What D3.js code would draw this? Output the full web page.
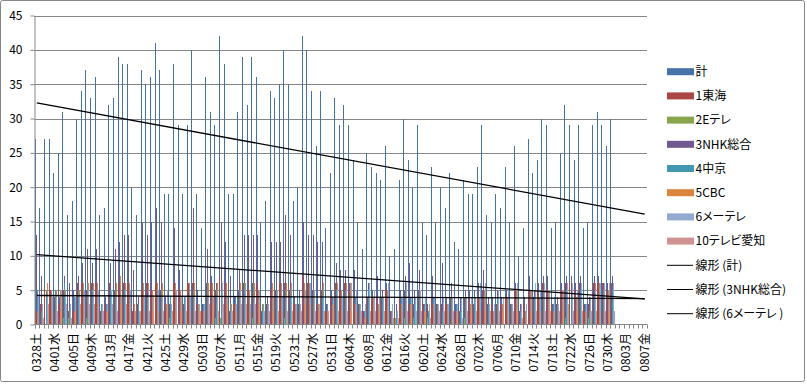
<!DOCTYPE html>
<html><head><meta charset="utf-8">
<script src="https://cdn.jsdelivr.net/npm/d3@7"></script>
<style>body{margin:0;background:#fff} text{font-family:"Noto Sans CJK JP","Noto Sans",sans-serif;fill:#000}</style>
</head><body><svg id="c" width="807" height="385"></svg>
<script>
const categories = ("0328土 0329日 0330月 0331火 " +
"0401水 0402木 0403金 0404土 0405日 0406月 0407火 0408水 0409木 0410金 0411土 0412日 0413月 0414火 0415水 0416木 0417金 0418土 0419日 0420月 0421火 0422水 0423木 0424金 0425土 0426日 0427月 0428火 0429水 0430木 " +
"0501金 0502土 0503日 0504月 0505火 0506水 0507木 0508金 0509土 0510日 0511月 0512火 0513水 0514木 0515金 0516土 0517日 0518月 0519火 0520水 0521木 0522金 0523土 0524日 0525月 0526火 0527水 0528木 0529金 0530土 0531日 " +
"0601月 0602火 0603水 0604木 0605金 0606土 0607日 0608月 0609火 0610水 0611木 0612金 0613土 0614日 0615月 0616火 0617水 0618木 0619金 0620土 0621日 0622月 0623火 0624水 0625木 0626金 0627土 0628日 0629月 0630火 " +
"0701水 0702木 0703金 0704土 0705日 0706月 0707火 0708水 0709木 0710金 0711土 0712日 0713月 0714火 0715水 0716木 0717金 0718土 0719日 0720月 0721火 0722水 0723木 0724金 0725土 0726日 0727月 0728火 0729水 0730木 0731金 " +
"0801土 0802日 0803月 0804火 0805水 0806木 0807金").split(" ");

const seriesNames = ["計","1東海","2Eテレ","3NHK総合","4中京","5CBC","6メーテレ","10テレビ愛知"];
const seriesColors = ["#4572A7","#AA4643","#89A54E","#71588F","#4198AF","#DB843D","#93A9CF","#D19392"];

const total = [27,17,27,27,22,25,31,16,18,30,34,37,33,36,16,17,32,33,39,38,38,20,16,37,35,36,41,37,19,19,38,29,19,29,
40,19,14,36,31,29,42,38,19,19,31,39,32,39,36,15,18,34,33,35,40,35,18,20,42,40,34,26,34,14,22,33,29,32,
29,24,15,11,25,23,22,21,26,10,11,21,30,24,20,29,15,13,23,15,20,17,22,12,11,21,19,19,23,29,16,15,19,17,
23,15,26,10,14,27,22,24,30,29,14,15,25,32,29,24,29,14,15,29,31,29,26,30];
const tokai = [2,3,5,6,4,3,5,2,2,6, 6,5,6,6,2,3,6,5,6,6, 6,2,3,5,6,5,6,5,3,3, 6,5,3,6,6,3,2,6,6,5,
7,6,2,3,5,6,5,6,6,2, 3,5,5,6,6,5,3,3,7,6, 5,3,5,2,4,6,5,6,5,4, 3,2,4,4,4,4,5,2,2,4,
5,3,3,5,3,3,4,3,3,3, 4,2,2,4,4,3,4,5,3,3, 3,3,4,3,5,2,3,5,4,5, 6,5,3,3,5,6,6,5,6,3, 3,6,6,6,5,6];
const etele = [0,0,0,1,0,1,1,1,0,0, 0,1,0,0,0,0,0,0,1,0, 0,0,0,0,0,0,0,0,0,1, 0,0,0,0,0,0,0,0,0,1,
1,1,0,0,0,0,0,1,0,0, 0,0,0,0,1,0,1,0,1,0, 0,0,0,0,1,0,0,0,0,0, 0,1,0,0,0,0,0,0,1,0,
1,0,1,0,0,1,0,0,0,0, 0,0,0,1,0,0,0,0,0,1, 0,0,1,0,0,0,1,0,0,0, 0,1,0,0,0,1,0,0,0,0, 1,0,0,0,0,0];
const nhk = [13,7,4,5,3,4,7,6,5,7, 9,11,9,11,3,4,9,11,12,13, 13,8,4,15,13,15,17,15,4,3, 14,8,4,6,17,5,3,11,7,6,
15,12,7,4,8,13,13,13,13,3, 4,12,12,12,16,13,4,5,15,13, 13,12,12,3,5,9,8,8,6,8, 3,2,6,5,7,5,6,2,3,5,
7,9,5,8,3,2,7,3,9,4, 6,3,4,5,5,5,6,8,4,4, 5,4,5,3,6,3,4,7,5,6, 7,7,3,4,6,7,7,6,7,3, 4,7,7,6,6,7];
const chukyo = [5,2,5,4,5,5,6,2,4,5, 5,6,5,5,3,3,5,5,6,5, 6,3,3,5,4,5,5,5,3,4, 5,5,4,5,5,3,3,6,5,5,
5,6,3,4,5,6,4,6,5,3, 3,5,5,5,5,5,3,4,5,6, 5,3,5,3,4,5,5,5,5,4, 3,2,5,4,3,4,4,2,2,4,
5,4,3,5,3,2,4,3,2,3, 4,3,2,4,3,4,4,5,3,2, 4,3,4,3,5,2,2,4,4,4, 5,5,3,3,4,5,4,4,5,3, 2,4,5,5,5,5];
const cbc = [2,1,6,5,5,5,5,1,2,5, 6,6,6,6,3,2,5,6,7,6, 6,3,2,6,6,5,6,6,3,3, 6,5,3,6,6,3,2,6,6,6,
6,6,3,3,6,6,5,6,5,3, 3,6,5,6,6,6,3,3,6,6, 5,3,6,2,3,6,5,6,6,3, 2,1,4,4,3,3,5,1,1,3,
5,3,3,5,2,2,3,2,2,3, 4,2,1,3,3,3,4,5,3,2, 3,3,4,3,5,1,2,5,4,4, 6,5,2,2,5,6,6,4,5,2, 2,6,6,6,5,6];
const meitele = [4,3,4,4,4,5,4,3,4,4, 5,5,5,5,3,3,5,4,4,5, 5,2,2,4,5,4,5,4,5,3, 5,4,4,4,4,3,3,4,4,4,
6,4,2,3,5,5,3,4,5,2, 3,4,5,4,4,4,3,3,5,6, 5,3,4,2,4,5,4,5,6,5, 3,3,6,5,4,4,6,3,2,4,
6,4,4,5,4,3,4,3,4,3, 4,3,4,4,4,4,6,6,3,3, 5,4,5,3,6,3,3,5,6,5, 6,5,4,3,5,6,6,5,6,3, 4,5,6,6,6,6];
const aichi = [2,1,3,2,2,2,3,1,2,3, 3,3,3,3,2,2,3,2,3,3, 3,2,2,2,2,2,2,2,2,2, 2,2,2,2,2,2,2,3,3,2,
3,3,2,2,3,3,2,3,3,2, 2,2,2,2,2,2,2,2,3,3, 2,2,2,2,2,2,2,2,2,2, 2,1,2,2,2,2,2,1,1,2,
2,2,2,2,2,1,2,2,2,2, 2,1,1,2,2,2,2,2,2,2, 2,2,2,2,2,1,1,2,2,2, 2,2,2,2,2,3,2,2,2,2, 2,2,2,2,2,2];
const seriesValues = [total,tokai,etele,nhk,chukyo,cbc,meitele,aichi];
const trendNames = ["線形 (計)","線形 (3NHK総合)","線形 (6メーテレ )"];
const trendSources = [0,3,6];
const yTicks = [0,5,10,15,20,25,30,35,40,45];
const xLabelEvery = 4;

const svg = d3.select("#c");
svg.append("rect").attr("x",0.5).attr("y",0.5).attr("width",804).attr("height",381)
  .attr("fill","#fff").attr("stroke","#868686").attr("rx",2);

const L=34.5, R=647, T=15.5, B=324.5;
const x0 = d3.scaleBand().domain(d3.range(categories.length)).range([L,R]).paddingInner(0).paddingOuter(0);
const x1 = d3.scaleBand().domain(d3.range(seriesNames.length)).range([0,x0.bandwidth()]).paddingInner(0).paddingOuter(0.55);
const y = d3.scaleLinear().domain([0,45]).range([B,T]);

// gridlines
svg.append("g").selectAll("line").data(yTicks.slice(1)).join("line")
  .attr("x1",L).attr("x2",R).attr("y1",d=>Math.round(y(d))+0.5).attr("y2",d=>Math.round(y(d))+0.5)
  .attr("stroke","#868686").attr("stroke-width",1);

// bars
const barG = svg.append("g").attr("shape-rendering","crispEdges");
seriesValues.forEach((vals,s)=>{
  barG.append("g").selectAll("rect").data(vals.map((v,i)=>({v,i})).filter(d=>d.v>0)).join("rect")
    .attr("x",d=>x0(d.i)+x1(s)).attr("width",1)
    .attr("y",d=>y(d.v)).attr("height",d=>y(0)-y(d.v))
    .attr("fill",seriesColors[s]);
});

// trend lines (linear regression over all categories, blank = 0)
function regress(vals){
  const n=categories.length; const xs=d3.range(n); const ys=xs.map(i=>vals[i]||0);
  const mx=d3.mean(xs), my=d3.mean(ys);
  let sxy=0,sxx=0; xs.forEach((xv,k)=>{sxy+=(xv-mx)*(ys[k]-my); sxx+=(xv-mx)*(xv-mx);});
  const b=sxy/sxx, a=my-b*mx; return i=>a+b*i;
}
trendSources.forEach(s=>{
  const f=regress(seriesValues[s]);
  const n=categories.length;
  svg.append("line").attr("x1",x0(0)+x0.bandwidth()/2).attr("x2",x0(n-1)+x0.bandwidth()/2)
    .attr("y1",y(f(0))).attr("y2",y(f(n-1))).attr("stroke","#000").attr("stroke-width",1.3);
});

// y axis
const yAxis = svg.append("g").attr("transform",`translate(${L},0)`)
  .call(d3.axisLeft(y).tickValues(yTicks).tickSize(4).tickPadding(8).tickSizeOuter(0));
yAxis.select(".domain").attr("stroke","#868686");
yAxis.selectAll(".tick line").attr("stroke","#868686");
yAxis.selectAll("text").style("font-size","12px").style("font-family","'Noto Sans CJK JP'");

// x axis line & ticks at category boundaries
svg.append("line").attr("x1",L).attr("x2",R).attr("y1",B).attr("y2",B).attr("stroke","#868686");
svg.append("g").selectAll("line").data(d3.range(categories.length+1)).join("line")
  .attr("x1",i=>Math.round(i<categories.length?x0(i):R)+0.5).attr("x2",i=>Math.round(i<categories.length?x0(i):R)+0.5)
  .attr("y1",B).attr("y2",B+4).attr("stroke","#868686");
svg.append("g").selectAll("text").data(categories.map((c,i)=>({c,i})).filter(d=>d.i%xLabelEvery===0)).join("text")
  .attr("transform",d=>`translate(${x0(d.i)+x0.bandwidth()/2},333) rotate(-90)`)
  .attr("text-anchor","end").attr("dy","0.35em").style("font-size","12px").text(d=>d.c);

// legend
const legendItems = seriesNames.map((n,s)=>({n,type:"bar",c:seriesColors[s]}))
  .concat(trendNames.map(n=>({n,type:"line",c:"#000"})));
const lg = svg.append("g");
legendItems.forEach((d,k)=>{
  const cy = 71.7 + k*24.2;
  if(d.type==="bar") lg.append("rect").attr("x",667).attr("y",cy-3.5).attr("width",27).attr("height",7).attr("fill",d.c);
  else lg.append("line").attr("x1",667).attr("x2",693).attr("y1",cy).attr("y2",cy).attr("stroke","#000");
  lg.append("text").attr("x",695.5).attr("y",cy).attr("dy","0.36em").style("font-size","12px")
    .style("font-feature-settings","'palt'").text(d.n);
});
</script></body></html>
